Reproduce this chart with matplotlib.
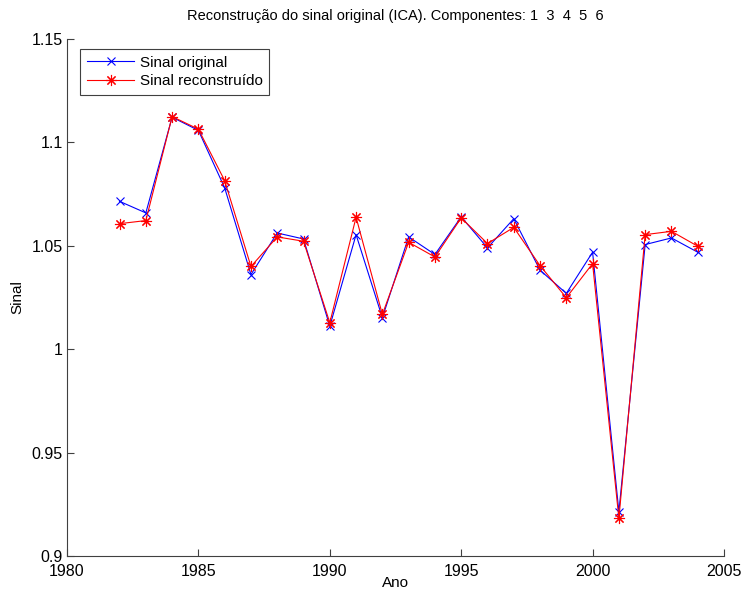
import matplotlib
matplotlib.use("Agg")
import matplotlib.pyplot as plt
from matplotlib.ticker import FuncFormatter

plt.rcParams['font.family'] = ['Liberation Sans', 'DejaVu Sans']

years = list(range(1982, 2005))
original = [1.0715, 1.0659, 1.1122, 1.1058, 1.0780, 1.0361, 1.0562, 1.0533, 1.0111,
            1.0554, 1.0152, 1.0543, 1.0458, 1.0640, 1.0490, 1.0631, 1.0382, 1.0270,
            1.0469, 0.9214, 1.0506, 1.0538, 1.0469]
reconstructed = [1.0607, 1.0622, 1.1125, 1.1064, 1.0815, 1.0400, 1.0543, 1.0522, 1.0128,
                 1.0638, 1.0168, 1.0517, 1.0446, 1.0635, 1.0511, 1.0589, 1.0404, 1.0249,
                 1.0414, 0.9182, 1.0554, 1.0570, 1.0498]
xticks = [1980, 1985, 1990, 1995, 2000, 2005]
yticks = [0.9, 0.95, 1.0, 1.05, 1.1, 1.15]

fig = plt.figure(figsize=(7.41, 5.91), dpi=100)
ax = fig.add_axes([67/741, 35/591, (724-67)/741, (556-39)/591])
ax.plot(years, original, color='#0000ff', marker='x', markersize=6, linewidth=0.8,
        markeredgewidth=0.8, label='Sinal original')
ax.plot(years, reconstructed, color='#ff0000', marker=(8, 2, 0), markersize=8, linewidth=0.8,
        markeredgewidth=0.8, label='Sinal reconstruído')
ax.set_xlim(1980, 2005)
ax.set_ylim(0.9, 1.15)
ax.set_xticks(xticks)
ax.set_yticks(yticks)
ax.yaxis.set_major_formatter(FuncFormatter(lambda v, p: '%g' % v))
for s in ['top', 'right']:
    ax.spines[s].set_visible(False)
for s in ['left', 'bottom']:
    ax.spines[s].set_color('#404040')
    ax.spines[s].set_linewidth(0.8)
ax.tick_params(direction='in', length=5, color='#404040', labelsize=11.5)
ax.tick_params(axis='x', pad=5.5)
ax.tick_params(axis='y', pad=3)
ax.set_title('Reconstrução do sinal original (ICA). Componentes: 1  3  4  5  6', fontsize=10.5, pad=14)
ax.set_xlabel('Ano', fontsize=11, labelpad=-2)
ax.set_ylabel('Sinal', fontsize=11, labelpad=5)
leg = ax.legend(loc='upper left', bbox_to_anchor=(0.02, 0.981), fontsize=11, fancybox=False,
                framealpha=1, edgecolor='#404040', borderpad=0.45, handlelength=3.1,
                labelspacing=0.3, handletextpad=0.35, borderaxespad=0)
leg.get_frame().set_linewidth(0.8)
fig.savefig('out.png', dpi=100)
